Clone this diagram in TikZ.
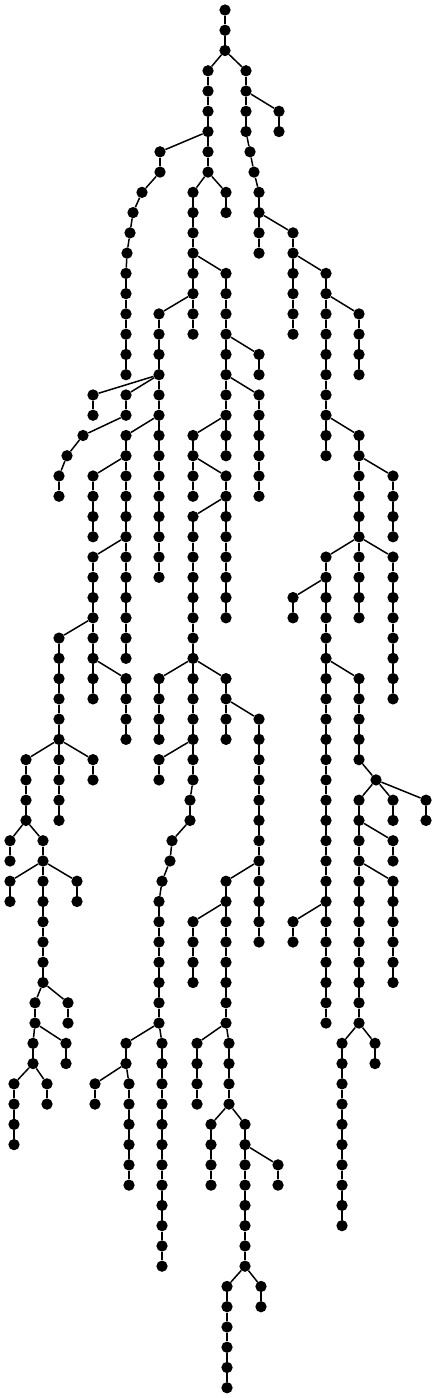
\documentclass[tikz,border=0pt]{standalone}
\usepackage{tikz}
\tikzset{dot/.style={circle, fill=black, inner sep=0pt, minimum size=11.3pt},
	link/.style={line width=1.5pt, color=black}}

\begin{document}
\begin{tikzpicture}[x=1pt, y=-20.26pt]
			%%%%% START %%%%%
			\useasboundingbox (0, -0.4936) rectangle (436, 68.506);
			
			% straight runs: column / first row / last row
			\foreach \x/\a/\b in {225/0/2, 208/3/8, 246/3/6, 279/5/6, 250/7/7, 254/8/8, 259/9/12, 293/11/16, 326/13/22, 359/15/18, 359/21/30, 393/23/26, 393/27/34, 326/27/50, 293/29/30, 359/33/37, 376/38/38, 359/39/50, 393/39/40, 426/39/40, 393/41/42, 393/43/48, 293/45/46, 342/51/60, 375/51/52,
				160/7/8, 142/9/9, 133/10/10, 130/11/11, 127/12/12, 126/13/18,
				226/9/10, 193/9/16, 226/13/22, 259/17/18, 259/19/24, 193/21/24, 226/23/30, 193/25/38, 190/39/40, 172/41/41, 170/42/42, 162/43/43, 159/44/50, 126/51/52, 95/53/54, 129/53/58, 162/51/62,
				159/15/28, 93/19/20, 126/19/20, 83/21/21, 67/22/22, 59/23/24, 126/21/32, 93/23/26, 93/27/34, 59/31/40, 93/37/38, 26/37/40, 10/41/42, 43/41/48, 10/43/44, 77/43/44, 35/49/50, 68/49/50, 33/51/52, 66/51/52, 14/53/56, 47/53/54,
				126/33/36, 159/33/36, 226/33/36, 259/35/46, 159/37/38, 226/43/50, 193/45/48, 197/51/54, 229/51/54, 211/55/58, 245/55/62, 278/57/58, 227/63/68, 261/63/64}{
				\foreach \r in {\a,...,\b}{
					\node[dot] (v\x-\r) at (\x, \r) {};
					\ifnum\r>\a
						\pgfmathtruncatemacro{\q}{\r-1}
						\draw[link] (v\x-\q) -- (v\x-\r);
					\fi
				}
			}
			
			% branching links
			\foreach \p/\c in {225-2/208-3, 225-2/246-3, 246-4/279-5, 246-6/250-7, 250-7/254-8, 254-8/259-9, 259-10/293-11, 293-12/326-13, 326-14/359-15, 326-20/359-21, 359-22/393-23, 359-26/326-27, 359-26/393-27, 326-28/293-29, 326-32/359-33, 326-44/293-45, 359-37/376-38, 376-38/359-39, 376-38/393-39, 376-38/426-39, 359-40/393-41, 359-42/393-43, 359-50/342-51, 359-50/375-51,
				208-6/160-7, 160-8/142-9, 142-9/133-10, 133-10/130-11, 130-11/127-12, 127-12/126-13,
				208-8/193-9, 208-8/226-9, 193-12/226-13, 193-14/159-15, 226-16/259-17, 226-18/259-19, 226-20/193-21, 193-22/226-23, 226-24/193-25, 193-32/159-33, 193-32/226-33, 193-36/159-37, 193-38/190-39, 190-40/172-41, 172-41/170-42, 170-42/162-43, 162-43/159-44, 159-50/126-51, 159-50/162-51, 126-52/95-53, 126-52/129-53,
				159-18/93-19, 159-18/126-19, 159-20/126-21, 126-20/83-21, 83-21/67-22, 67-22/59-23, 126-22/93-23, 126-26/93-27, 93-30/59-31, 93-32/126-33, 59-36/26-37, 59-36/93-37, 26-40/10-41, 26-40/43-41, 43-42/10-43, 43-42/77-43, 43-48/35-49, 43-48/68-49, 35-50/33-51, 35-50/66-51, 33-52/14-53, 33-52/47-53,
				226-34/259-35, 259-42/226-43, 226-44/193-45, 226-50/197-51, 226-50/229-51, 229-54/211-55, 229-54/245-55, 245-56/278-57, 245-62/227-63, 245-62/261-63}
				\draw[link] (v\p) -- (v\c);
			
			%%%%% END %%%%%
		\end{tikzpicture}
\end{document}
